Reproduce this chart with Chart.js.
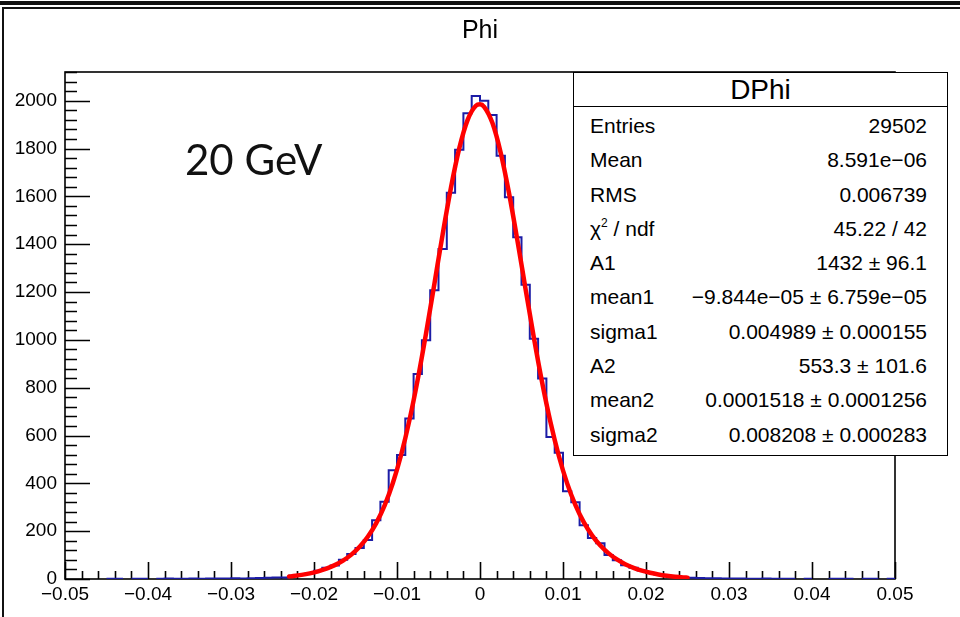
<!DOCTYPE html>
<html>
<head>
<meta charset="utf-8">
<script src="https://cdn.jsdelivr.net/npm/chart.js@4.4.1/dist/chart.umd.min.js"></script>
<style>
html,body{margin:0;padding:0;background:#fff;}
#wrap{position:relative;width:960px;height:617px;overflow:hidden;background:#fff;font-family:"Liberation Sans",Arial,sans-serif;color:#000;}
#topbar{position:absolute;left:0;top:1px;width:960px;height:4px;background:#111;}
#frame{position:absolute;left:2px;top:7px;width:990px;height:650px;border:2px solid #111;box-sizing:border-box;}
#c{position:absolute;left:0;top:0;}
#title{position:absolute;left:0;top:17px;width:960px;text-align:center;font-size:25px;line-height:25px;}
#gev{position:absolute;left:185px;top:138px;font-family:Lato,"Open Sans",sans-serif;font-size:42px;line-height:42px;white-space:nowrap;color:#111;}
#stats{position:absolute;left:573px;top:72px;width:375px;height:384px;border:1.5px solid #000;background:#fff;box-sizing:border-box;}
#stats .hdr{height:33px;border-bottom:1.5px solid #000;text-align:center;font-size:28px;line-height:33px;}
#stats .rows{padding-top:2px;}
#stats .row{display:flex;justify-content:space-between;height:34.3px;line-height:34.3px;font-size:21px;padding:0 20px 0 16px;white-space:nowrap;}
#stats sup{font-size:12px;line-height:0;vertical-align:9px;}
</style>
</head>
<body>
<div id="wrap">
  <div id="topbar"></div>
  <div id="frame"></div>
  <canvas id="c" width="960" height="617"></canvas>
  <div id="title">Phi</div>
  <div id="gev">20 GeV</div>
  <div id="stats"></div>
</div>
<script>
// ---- data ----
const histName = "DPhi";
const xMin = -0.05, xMax = 0.05, binWidth = 0.001;
// 100 bins, from -0.05 to 0.05
const binCounts = [
  0, 0, 0, 0, 0, 1, 1, 0, 1, 1,
  0, 1, 2, 1, 1, 2, 1, 2, 2, 2,
  3, 2, 3, 4, 5, 6, 6, 14, 17, 24,
  34, 47, 56, 80, 105, 130, 163, 246, 323, 455,
  519, 671, 857, 998, 1207, 1380, 1615, 1795, 1948, 2020,
  2000, 1940, 1770, 1596, 1429, 1230, 1005, 838, 594, 528,
  367, 321, 225, 171, 150, 100, 78, 58, 47, 36,
  25, 19, 14, 10, 7, 5, 4, 3, 3, 2,
  2, 2, 1, 1, 2, 1, 1, 1, 0, 1,
  0, 0, 1, 1, 1, 0, 1, 1, 0, 1
];
// fitted double-gaussian curve
const fitX = [-0.023, -0.0225, -0.0215, -0.0205, -0.0195, -0.0185, -0.0175, -0.0165, -0.0155, -0.0145,
  -0.0135, -0.0125, -0.0115, -0.0105, -0.0095, -0.0085, -0.0075, -0.0065, -0.0055, -0.0045,
  -0.0035, -0.0025, -0.0015, -0.0005, 0, 0.0005, 0.0015, 0.0025, 0.0035, 0.0045,
  0.0055, 0.0065, 0.0075, 0.0085, 0.0095, 0.0105, 0.0115, 0.0125, 0.0135, 0.0145,
  0.0155, 0.0165, 0.0175, 0.0185, 0.0195, 0.0205, 0.0215, 0.0225, 0.0235, 0.0245, 0.025];
const fitY = [10.4, 12.3, 17.2, 23.7, 32.2, 43.4, 58.1, 77.1, 102.0, 134.7,
  177.6, 233.9, 307.1, 401.3, 519.6, 664.3, 834.7, 1027.0, 1233.4, 1441.5,
  1636.2, 1800.5, 1918.8, 1979.0, 1984.9, 1974.5, 1906.3, 1781.5, 1613.1, 1417.3,
  1210.5, 1007.5, 819.6, 654.2, 514.3, 399.8, 308.7, 237.5, 182.4, 139.9,
  107.1, 81.8, 62.1, 46.9, 35.0, 25.9, 18.9, 13.6, 9.7, 6.8, 5.7];
const yMax = 2120;
const xTickStep = 0.01, yTickStep = 200;
const statNames = ["Entries", "Mean", "RMS", "χ<sup>2</sup> / ndf", "A1", "mean1", "sigma1", "A2", "mean2", "sigma2"];
const statValues = ["29502", "8.591e\u221206", "0.006739", "45.22 / 42", "1432 \u00b1 96.1",
  "\u22129.844e\u221205 \u00b1 6.759e\u221205", "0.004989 \u00b1 0.000155", "553.3 \u00b1 101.6",
  "0.0001518 \u00b1 0.0001256", "0.008208 \u00b1 0.000283"];

// ---- stats box ----
(function(){
  const box = document.getElementById('stats');
  let html = '<div class="hdr">' + histName + '</div><div class="rows">';
  for (let i = 0; i < statNames.length; i++) {
    html += '<div class="row"><span>' + statNames[i] + '</span><span>' + statValues[i] + '</span></div>';
  }
  box.innerHTML = html + '</div>';
})();

// ---- histogram outline points (built from bin counts) ----
const histPts = [];
for (let i = 0; i < binCounts.length; i++) {
  const x0 = xMin + i * binWidth, x1 = x0 + binWidth;
  if (binCounts[i] > 0) {
    histPts.push({x: x0, y: binCounts[i]}, {x: x1, y: binCounts[i]});
  } else {
    histPts.push({x: x0 + binWidth / 2, y: null});
  }
}
const fitPts = fitX.map((x, i) => ({x: x, y: fitY[i]}));

function fmtX(v) {
  const r = Math.round(v * 100) / 100;
  if (Math.abs(r) < 1e-9) return '0';
  return (r < 0 ? '\u2212' : '') + Math.abs(r).toFixed(2);
}

const framePlugin = {
  id: 'rootFrame',
  beforeDatasetsDraw(chart) {
    const {ctx, chartArea: a, scales: {x, y}} = chart;
    ctx.save();
    ctx.strokeStyle = '#000';
    ctx.lineWidth = 1.6;
    ctx.strokeRect(a.left, a.top, a.right - a.left, a.bottom - a.top);
    ctx.beginPath();
    for (let v = 0; v <= yMax; v += yTickStep / 5) {
      const py = Math.round(y.getPixelForValue(v)) + 0.5;
      const major = Math.round(v) % yTickStep === 0;
      ctx.moveTo(a.left, py);
      ctx.lineTo(a.left + (major ? 25 : 12), py);
    }
    const nMinor = Math.round((xMax - xMin) / (xTickStep / 5));
    for (let i = 0; i <= nMinor; i++) {
      const v = xMin + i * xTickStep / 5;
      const px = Math.round(x.getPixelForValue(v)) + 0.5;
      const major = i % 5 === 0;
      ctx.moveTo(px, a.bottom);
      ctx.lineTo(px, a.bottom - (major ? 17 : 8));
    }
    ctx.stroke();
    ctx.restore();
  }
};

new Chart(document.getElementById('c'), {
  type: 'line',
  data: {
    datasets: [
      {
        label: 'DPhi',
        data: histPts,
        borderColor: '#1c1ca6',
        borderWidth: 2,
        pointRadius: 0,
        spanGaps: false,
        tension: 0,
        order: 2
      },
      {
        label: 'fit',
        data: fitPts,
        borderColor: '#ff0000',
        borderWidth: 4.5,
        pointRadius: 0,
        cubicInterpolationMode: 'monotone',
        borderCapStyle: 'round',
        borderJoinStyle: 'round',
        order: 1
      }
    ]
  },
  options: {
    responsive: false,
    devicePixelRatio: 1,
    animation: false,
    events: [],
    layout: {padding: {left: 0, top: 72, right: 65, bottom: 0}},
    plugins: {legend: {display: false}, tooltip: {enabled: false}, title: {display: false}},
    scales: {
      x: {
        type: 'linear',
        min: xMin, max: xMax,
        grid: {display: false, drawTicks: false},
        border: {display: false},
        ticks: {
          stepSize: xTickStep, autoSkip: false, maxRotation: 0, includeBounds: false,
          padding: 4, color: '#000',
          font: {family: '"Liberation Sans", Arial, sans-serif', size: 19},
          callback: v => fmtX(v)
        },
        afterFit: s => { s.height = 38; }
      },
      y: {
        type: 'linear',
        min: 0, max: yMax,
        grid: {display: false, drawTicks: false},
        border: {display: false},
        ticks: {
          stepSize: yTickStep, autoSkip: false, includeBounds: false,
          padding: 8, color: '#000',
          font: {family: '"Liberation Sans", Arial, sans-serif', size: 19},
          callback: v => String(Math.round(v))
        },
        afterFit: s => { s.width = 65; }
      }
    }
  },
  plugins: [framePlugin]
});
</script>
</body>
</html>
